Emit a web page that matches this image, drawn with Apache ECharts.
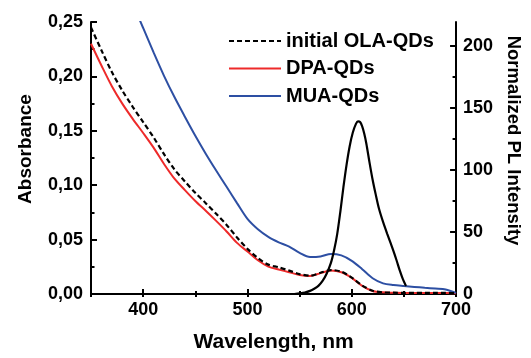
<!DOCTYPE html>
<html>
<head>
<meta charset="utf-8">
<script src="https://cdn.jsdelivr.net/npm/echarts@6/dist/echarts.min.js"></script>
<style>
  html, body {margin: 0; padding: 0; background: #fff;}
  #chart {width: 531px; height: 358px;}
</style>
</head>
<body>
<div id="chart"></div>
<script>
// absorbance spectra (nm -> a.u.)
var absWl = [350, 360, 370, 380, 390, 400, 410, 420, 430, 440, 450, 460, 470, 480, 490, 500, 510, 520,
  530, 540, 550, 560, 570, 580, 590, 600, 610, 620, 630, 640, 650, 660, 670, 680, 690, 700];
var olaAbs = [0.245, 0.224, 0.204, 0.187, 0.172, 0.158, 0.144, 0.1285, 0.1145, 0.1035, 0.093, 0.0835, 0.0737, 0.0635, 0.052, 0.0415, 0.033, 0.027,
  0.0245, 0.0215, 0.0183, 0.0168, 0.0195, 0.022, 0.0205, 0.015, 0.0078, 0.003, 0.0015, 0.0012, 0.001, 0.001, 0.001, 0.001, 0.001, 0.0008];
var dpaAbs = [0.230, 0.210, 0.191, 0.175, 0.161, 0.148, 0.1345, 0.1195, 0.106, 0.0955, 0.0855, 0.0765, 0.0672, 0.0575, 0.047, 0.039, 0.031, 0.0252,
  0.0225, 0.020, 0.0175, 0.0166, 0.0192, 0.0215, 0.020, 0.0148, 0.0075, 0.0028, 0.0015, 0.0012, 0.001, 0.001, 0.001, 0.001, 0.001, 0.0008];

var muaWl = [394, 400, 410, 420, 430, 440, 450, 460, 470, 480, 490, 500, 510, 520, 530, 540, 550, 560,
  570, 580, 590, 600, 610, 620, 630, 640, 650, 660, 670, 680, 690, 700];
var muaAbs = [0.258, 0.2445, 0.222, 0.2005, 0.181, 0.163, 0.1455, 0.129, 0.1135, 0.0985, 0.0835, 0.069, 0.0595, 0.0525, 0.0475, 0.0435, 0.0378, 0.034,
  0.0345, 0.0368, 0.0355, 0.0305, 0.0228, 0.0145, 0.0098, 0.0082, 0.0073, 0.0065, 0.0057, 0.005, 0.0042, 0.001];

// photoluminescence of initial QDs
var plWl = [545, 550, 555, 560, 564, 568, 572, 576, 580, 583, 586, 589, 592, 595, 598, 601, 604, 606,
  608, 610, 612, 614, 617, 620, 623, 626, 630, 634, 637, 640, 643, 646, 649, 652];
var plInt = [0, 0.5, 1.2, 2.5, 4.2, 6.5, 10.5, 16.5, 25, 35, 48, 66, 86, 104, 119, 130, 137, 139,
  138.5, 135, 129, 121, 106, 92, 80, 69, 58, 48.5, 41.5, 34.5, 27, 19, 12, 6.5];

var xMajor = [400, 500, 600, 700];
var xMinor = [450, 550, 650];
var plMajor = [0, 50, 100, 150, 200];
var plMinor = [25, 75, 125, 175];

function pairs(xs, ys) {
  return xs.map(function (x, i) { return [x, ys[i]]; });
}

var font = 'Liberation Sans, Arial, sans-serif';
var lbl = {color: '#000', fontFamily: font, fontWeight: 'bold', fontSize: 18};
var line2 = {lineStyle: {color: '#000', width: 2}};

var chart = echarts.init(document.getElementById('chart'));
chart.setOption({
  animation: false,
  backgroundColor: '#fff',
  grid: {left: 91, right: 67, top: 22, bottom: 60},
  legend: {
    data: ['initial OLA-QDs', 'DPA-QDs', 'MUA-QDs'],
    orient: 'vertical',
    left: 228, top: 31, padding: 0,
    itemWidth: 52, itemHeight: 14, itemGap: 7.5,
    itemStyle: {opacity: 0},
    textStyle: {color: '#000', fontFamily: font, fontWeight: 'bold', fontSize: 20}
  },
  xAxis: [{
    type: 'value', min: 350, max: 700, interval: 50,
    axisLine: line2,
    axisTick: {inside: true, length: 5, lineStyle: {width: 2}, customValues: xMajor},
    axisLabel: Object.assign({margin: 7, customValues: xMajor}, lbl),
    splitLine: {show: false},
    name: 'Wavelength, nm', nameLocation: 'middle', nameGap: 38,
    nameTextStyle: {color: '#000', fontFamily: font, fontWeight: 'bold', fontSize: 21}
  }, {
    type: 'value', min: 350, max: 700, interval: 50, position: 'bottom',
    axisLine: {show: false},
    axisTick: {inside: true, length: 3, lineStyle: {width: 2, color: '#000'}, customValues: xMinor},
    axisLabel: {show: false}, splitLine: {show: false}
  }, {
    type: 'value', min: 350, max: 700, interval: 50, position: 'top',
    axisLine: line2,
    axisTick: {inside: true, length: 3, lineStyle: {width: 2}},
    axisLabel: {show: false}, splitLine: {show: false}
  }],
  yAxis: [{
    type: 'value', min: 0, max: 0.25, interval: 0.05, position: 'left',
    axisLine: {show: true, lineStyle: {color: '#000', width: 2}},
    axisTick: {inside: true, length: 6, lineStyle: {width: 2}},
    minorTick: {show: true, splitNumber: 2, length: 3.5, lineStyle: {color: '#000', width: 2}},
    axisLabel: Object.assign({margin: 8, formatter: function (v) { return v.toFixed(2).replace('.', ','); }}, lbl),
    splitLine: {show: false},
    name: 'Absorbance', nameLocation: 'middle', nameGap: 56,
    nameTextStyle: {color: '#000', fontFamily: font, fontWeight: 'bold', fontSize: 19, padding: [0, 0, 0, 18]}
  }, {
    type: 'value', min: 0, max: 219, interval: 50, position: 'right',
    axisLine: {show: true, lineStyle: {color: '#000', width: 2}},
    axisTick: {inside: true, length: 6, lineStyle: {width: 2}, customValues: plMajor},
    axisLabel: Object.assign({margin: 7, customValues: plMajor}, lbl),
    splitLine: {show: false},
    name: 'Normalized PL Intensity', nameLocation: 'middle', nameGap: 46, nameRotate: -90,
    nameTextStyle: {color: '#000', fontFamily: font, fontWeight: 'bold', fontSize: 18.5, padding: [0, 35, 0, 0]}
  }, {
    type: 'value', min: 0, max: 219, interval: 50, position: 'right',
    axisLine: {show: false},
    axisTick: {inside: true, length: 3.5, lineStyle: {width: 2, color: '#000'}, customValues: plMinor},
    axisLabel: {show: false}, splitLine: {show: false}
  }],
  series: [{
    name: 'initial OLA-QDs', type: 'line', symbol: 'none', smooth: 0.3,
    lineStyle: {color: '#000', width: 2.2, type: [5, 3]}, itemStyle: {color: '#000'},
    data: pairs(absWl, olaAbs), z: 4
  }, {
    name: 'DPA-QDs', type: 'line', symbol: 'none', smooth: 0.3,
    lineStyle: {color: '#ee2a2a', width: 2}, itemStyle: {color: '#ee2a2a'},
    data: pairs(absWl, dpaAbs), z: 3
  }, {
    name: 'MUA-QDs', type: 'line', symbol: 'none', smooth: 0.3,
    lineStyle: {color: '#2d4fa3', width: 2}, itemStyle: {color: '#2d4fa3'},
    data: pairs(muaWl, muaAbs), z: 3
  }, {
    name: 'PL', type: 'line', symbol: 'none', smooth: 0.3, yAxisIndex: 1,
    lineStyle: {color: '#000', width: 2.2}, itemStyle: {color: '#000'},
    data: pairs(plWl, plInt), z: 5
  }]
});
</script>
</body>
</html>
